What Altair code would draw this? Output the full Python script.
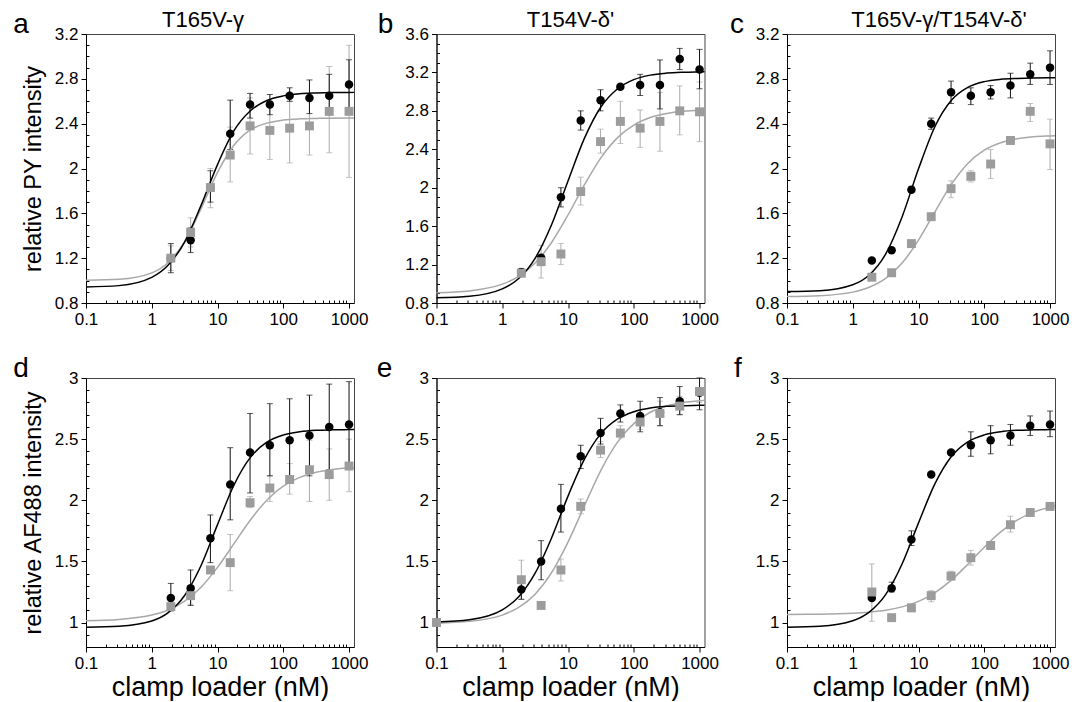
import altair as alt
import pandas as pd

FONT = "Liberation Sans"

# ---------------- shared x values ----------------
conc = [1.95, 3.9, 7.8, 15.6, 31.25, 62.5, 125, 250, 500, 1000]
conc_e = [0.1, 1.95, 3.9, 7.8, 15.6, 31.25, 62.5, 125, 250, 500, 1000]
fit_x = [0.1, 0.316, 1, 1.78, 3.16, 5.62, 10, 17.8, 31.6, 56.2, 100, 178, 316, 562, 1000, 1190]

# ---------------- axis ticks ----------------
x_major = [0.1, 1, 10, 100, 1000]
x_minor = [0.2, 0.3, 0.4, 0.5, 0.6, 0.7, 0.8, 0.9,
           2, 3, 4, 5, 6, 7, 8, 9,
           20, 30, 40, 50, 60, 70, 80, 90,
           200, 300, 400, 500, 600, 700, 800, 900]
y_major_ac = [0.8, 1.2, 1.6, 2.0, 2.4, 2.8, 3.2]
y_major_b = [0.8, 1.2, 1.6, 2.0, 2.4, 2.8, 3.2, 3.6]
y_major_def = [1.0, 1.5, 2.0, 2.5, 3.0]
y_minor_ac = [0.9, 1.0, 1.1, 1.3, 1.4, 1.5, 1.7, 1.8, 1.9, 2.1, 2.2, 2.3,
              2.5, 2.6, 2.7, 2.9, 3.0, 3.1]
y_minor_b = y_minor_ac + [3.3, 3.4, 3.5]
y_minor_def = [0.9, 1.1, 1.2, 1.3, 1.4, 1.6, 1.7, 1.8, 1.9, 2.1, 2.2, 2.3,
               2.4, 2.6, 2.7, 2.8, 2.9]

# ---------------- panel a : T165V-gamma, PY ----------------
a_black = [1.20, 1.36, 1.83, 2.31, 2.57, 2.57, 2.65, 2.63, 2.65, 2.75]
a_black_lo = [1.07, 1.25, 1.70, 2.17, 2.45, 2.48, 2.60, 2.49, 2.48, 2.53]
a_black_hi = [1.33, 1.47, 1.98, 2.61, 2.67, 2.66, 2.72, 2.79, 2.84, 2.97]
a_grey = [1.20, 1.43, 1.83, 2.12, 2.38, 2.34, 2.36, 2.38, 2.51, 2.51]
a_grey_lo = [1.09, 1.30, 1.65, 1.88, 2.13, 2.08, 2.05, 2.12, 2.14, 1.92]
a_grey_hi = [1.31, 1.56, 2.00, 2.37, 2.63, 2.60, 2.60, 2.62, 2.91, 3.10]
a_black_fit = [0.943, 0.955, 1.029, 1.139, 1.344, 1.671, 2.035, 2.337, 2.515, 2.607,
               2.648, 2.667, 2.674, 2.678, 2.679, 2.680]
a_grey_fit = [1.002, 1.011, 1.069, 1.162, 1.348, 1.641, 1.966, 2.208, 2.344, 2.405,
              2.432, 2.443, 2.447, 2.449, 2.450, 2.450]

# ---------------- panel b : T154V-delta', PY ----------------
b_black = [1.12, 1.27, 1.90, 2.70, 2.91, 3.05, 3.07, 3.07, 3.34, 3.23]
b_black_lo = [1.09, 1.24, 1.80, 2.60, 2.80, 3.03, 2.96, 2.82, 3.23, 3.03]
b_black_hi = [1.16, 1.30, 2.00, 2.80, 3.02, 3.07, 3.18, 3.33, 3.45, 3.44]
b_grey = [1.11, 1.23, 1.31, 1.96, 2.48, 2.69, 2.62, 2.69, 2.80, 2.79]
b_grey_lo = [1.08, 1.06, 1.20, 1.82, 2.36, 2.46, 2.42, 2.38, 2.55, 2.48]
b_grey_hi = [1.15, 1.40, 1.42, 2.11, 2.61, 2.90, 2.81, 2.99, 3.06, 3.10]
b_black_fit = [0.854, 0.870, 0.947, 1.055, 1.265, 1.615, 2.071, 2.516, 2.840, 3.028,
               3.125, 3.172, 3.193, 3.202, 3.206, 3.207]
b_grey_fit = [0.907, 0.926, 0.996, 1.077, 1.216, 1.430, 1.716, 2.031, 2.311, 2.519,
              2.652, 2.730, 2.772, 2.795, 2.807, 2.809]

# ---------------- panel c : double mutant, PY ----------------
c_black = [1.18, 1.27, 1.81, 2.40, 2.68, 2.65, 2.68, 2.74, 2.84, 2.90]
c_black_lo = [1.18, 1.27, 1.79, 2.35, 2.58, 2.57, 2.62, 2.63, 2.75, 2.75]
c_black_hi = [1.18, 1.27, 1.84, 2.45, 2.78, 2.72, 2.74, 2.85, 2.94, 3.05]
c_grey = [1.03, 1.07, 1.33, 1.57, 1.82, 1.93, 2.04, 2.25, 2.51, 2.22]
c_grey_lo = [1.03, 1.07, 1.31, 1.57, 1.74, 1.88, 1.91, 2.25, 2.42, 1.99]
c_grey_hi = [1.03, 1.07, 1.36, 1.57, 1.89, 1.98, 2.17, 2.25, 2.58, 2.44]
c_black_fit = [0.902, 0.910, 0.963, 1.050, 1.236, 1.568, 1.997, 2.375, 2.609, 2.724,
               2.775, 2.796, 2.804, 2.808, 2.809, 2.810]
c_grey_fit = [0.857, 0.865, 0.897, 0.940, 1.019, 1.156, 1.361, 1.614, 1.858, 2.045,
              2.163, 2.230, 2.265, 2.283, 2.291, 2.293]

# ---------------- panel d : T165V-gamma, AF488 ----------------
d_black = [1.20, 1.28, 1.69, 2.13, 2.39, 2.45, 2.49, 2.53, 2.60, 2.62]
d_black_lo = [1.10, 1.14, 1.49, 1.84, 2.06, 2.20, 2.17, 2.20, 2.25, 2.28]
d_black_hi = [1.32, 1.43, 1.88, 2.43, 2.71, 2.79, 2.83, 2.86, 2.95, 2.97]
d_grey = [1.13, 1.22, 1.43, 1.49, 1.98, 2.10, 2.17, 2.25, 2.21, 2.28]
d_grey_lo = [1.09, 1.15, 1.41, 1.26, 1.94, 1.99, 2.05, 1.99, 2.00, 2.07]
d_grey_hi = [1.17, 1.28, 1.45, 1.72, 2.03, 2.20, 2.30, 2.49, 2.42, 2.50]
d_black_fit = [0.962, 0.970, 1.013, 1.081, 1.221, 1.467, 1.801, 2.125, 2.351, 2.475,
               2.534, 2.560, 2.572, 2.576, 2.578, 2.579]
d_grey_fit = [1.014, 1.025, 1.061, 1.103, 1.175, 1.289, 1.451, 1.645, 1.839, 2.001,
              2.115, 2.187, 2.229, 2.252, 2.265, 2.267]

# ---------------- panel e : T154V-delta', AF488 ----------------
e_black = [1.00, 1.27, 1.50, 1.93, 2.36, 2.55, 2.71, 2.69, 2.72, 2.81, 2.88]
e_black_lo = [1.00, 1.19, 1.35, 1.74, 2.26, 2.46, 2.64, 2.56, 2.61, 2.70, 2.74]
e_black_hi = [1.00, 1.36, 1.67, 2.13, 2.45, 2.67, 2.78, 2.81, 2.84, 2.93, 3.00]
e_grey = [1.00, 1.35, 1.14, 1.43, 1.95, 2.41, 2.55, 2.64, 2.71, 2.77, 2.89]
e_grey_lo = [1.00, 1.19, 1.14, 1.34, 1.89, 2.35, 2.51, 2.58, 2.61, 2.70, 2.80]
e_grey_hi = [1.00, 1.51, 1.14, 1.52, 2.01, 2.48, 2.61, 2.70, 2.81, 2.85, 3.00]
e_black_fit = [1.005, 1.023, 1.104, 1.211, 1.404, 1.692, 2.034, 2.336, 2.545, 2.663,
               2.724, 2.754, 2.768, 2.774, 2.777, 2.778]
e_grey_fit = [0.995, 1.010, 1.061, 1.124, 1.232, 1.408, 1.658, 1.956, 2.245, 2.473,
              2.627, 2.720, 2.771, 2.799, 2.814, 2.817]

# ---------------- panel f : double mutant, AF488 ----------------
f_black = [1.20, 1.28, 1.68, 2.21, 2.39, 2.45, 2.49, 2.53, 2.61, 2.62]
f_black_lo = [1.20, 1.25, 1.63, 2.21, 2.39, 2.36, 2.38, 2.45, 2.53, 2.52]
f_black_hi = [1.20, 1.33, 1.75, 2.21, 2.39, 2.56, 2.61, 2.62, 2.69, 2.73]
f_grey = [1.25, 1.04, 1.12, 1.22, 1.38, 1.53, 1.63, 1.80, 1.90, 1.95]
f_grey_lo = [1.01, 1.04, 1.12, 1.17, 1.35, 1.47, 1.63, 1.74, 1.87, 1.92]
f_grey_hi = [1.48, 1.04, 1.12, 1.26, 1.42, 1.59, 1.63, 1.87, 1.93, 1.98]
f_black_fit = [0.962, 0.970, 1.015, 1.085, 1.228, 1.479, 1.815, 2.136, 2.358, 2.478,
               2.535, 2.561, 2.572, 2.576, 2.578, 2.579]
f_grey_fit = [1.066, 1.068, 1.076, 1.085, 1.100, 1.128, 1.173, 1.245, 1.347, 1.477,
              1.616, 1.741, 1.837, 1.903, 1.944, 1.953]

titles = ["T165V-γ", "T154V-δ'", "T165V-γ/T154V-δ'", "", "", ""]
title_dx = [117, 134, 152, 0, 0, 0]
letters = ["a", "b", "c", "d", "e", "f"]
letter_dx = [-65, -51, -50, -65, -52, -49]

BLACK = "#000000"
BLACK_ERR = "#111111"
GREY_PT = "#9c9c9c"
GREY_LINE = "#a8a8a8"
GREY_ERR = "#ababab"

W, H = 268, 269


def make_panel(i, xs, bv, blo, bhi, gv, glo, ghi, bfit, gfit,
               ydom, ymaj, ymin, ytitle, xtitle):
    xsc = alt.Scale(type="log", domain=[0.1, 1190], nice=False)
    ysc = alt.Scale(domain=ydom, nice=False, zero=False)

    pts_b = pd.DataFrame({"x": xs, "v": bv, "lo": blo, "hi": bhi})
    pts_g = pd.DataFrame({"x": xs, "v": gv, "lo": glo, "hi": ghi})
    err_b = pts_b[pts_b["hi"] > pts_b["lo"]]
    err_g = pts_g[pts_g["hi"] > pts_g["lo"]]
    fit_b = pd.DataFrame({"x": fit_x, "v": bfit})
    fit_g = pd.DataFrame({"x": fit_x, "v": gfit})

    def X(axis=None):
        return alt.X("x:Q", scale=xsc, axis=axis)

    def Y(field, axis=None):
        return alt.Y(field, scale=ysc, axis=axis)

    def errlayers(df, color):
        rule = alt.Chart(df).mark_rule(color=color, strokeWidth=1).encode(
            x=X(), y=Y("lo:Q"), y2="hi:Q")
        cap_lo = alt.Chart(df).mark_tick(color=color, orient="horizontal",
                                         size=6, thickness=1).encode(x=X(), y=Y("lo:Q"))
        cap_hi = alt.Chart(df).mark_tick(color=color, orient="horizontal",
                                         size=6, thickness=1).encode(x=X(), y=Y("hi:Q"))
        return [rule, cap_lo, cap_hi]

    x_axis_major = alt.Axis(values=x_major, format="~g", orient="bottom",
                            tickSize=5, labelPadding=3, labelFlush=False,
                            labelOverlap=False,
                            title=xtitle if xtitle else None,
                            titleFontSize=27, titlePadding=3)
    y_axis_major = alt.Axis(values=ymaj, format="~g", orient="left",
                            tickSize=5, labelPadding=3, labelFlush=False,
                            labelOverlap=False,
                            title=ytitle if ytitle else None,
                            titleFontSize=23.5, titlePadding=9)
    x_axis_minor = alt.Axis(values=x_minor, orient="bottom", offset=-3,
                            tickSize=3, labels=False, domain=False, title=None)
    y_axis_minor = alt.Axis(values=ymin, orient="left", offset=-3,
                            tickSize=3, labels=False, domain=False, title=None)

    grey_line = alt.Chart(fit_g).mark_line(color=GREY_LINE, strokeWidth=1.5,
                                           interpolate="monotone").encode(
        x=X(x_axis_minor), y=Y("v:Q", y_axis_minor))
    black_line = alt.Chart(fit_b).mark_line(color=BLACK, strokeWidth=1.5,
                                            interpolate="monotone").encode(
        x=X(), y=Y("v:Q"))
    black_pts = alt.Chart(pts_b).mark_point(shape="circle", filled=True, size=72,
                                            color=BLACK, opacity=1).encode(
        x=X(x_axis_major), y=Y("v:Q", y_axis_major))
    grey_pts = alt.Chart(pts_g).mark_point(shape="square", filled=True, size=80,
                                           color=GREY_PT, opacity=1).encode(
        x=X(), y=Y("v:Q"))
    letter = alt.Chart(pd.DataFrame({"lab": [letters[i]]})).mark_text(
        font=FONT, fontSize=28, align="center", baseline="alphabetic",
        color=BLACK).encode(x=alt.value(letter_dx[i]), y=alt.value(-1), text="lab:N")

    layers = (errlayers(err_g, GREY_ERR) + errlayers(err_b, BLACK_ERR) +
              [grey_line, black_line, black_pts, grey_pts, letter])
    if titles[i]:
        head = alt.Chart(pd.DataFrame({"t": [titles[i]]})).mark_text(
            font=FONT, fontSize=22, align="center", baseline="alphabetic",
            color=BLACK).encode(x=alt.value(title_dx[i]), y=alt.value(-7), text="t:N")
        layers.append(head)
    ch = alt.layer(*layers).resolve_axis(x="independent", y="independent")
    return ch.properties(width=W, height=H)


ydom_top = [0.8, 3.2]
ydom_b = [0.8, 3.6]
ydom_bot = [0.8, 3.0]

pa = make_panel(0, conc, a_black, a_black_lo, a_black_hi, a_grey, a_grey_lo, a_grey_hi,
                a_black_fit, a_grey_fit, ydom_top, y_major_ac, y_minor_ac,
                "relative PY intensity", "")
pb = make_panel(1, conc, b_black, b_black_lo, b_black_hi, b_grey, b_grey_lo, b_grey_hi,
                b_black_fit, b_grey_fit, ydom_b, y_major_b, y_minor_b, "", "")
pc = make_panel(2, conc, c_black, c_black_lo, c_black_hi, c_grey, c_grey_lo, c_grey_hi,
                c_black_fit, c_grey_fit, ydom_top, y_major_ac, y_minor_ac, "", "")
pd_ = make_panel(3, conc, d_black, d_black_lo, d_black_hi, d_grey, d_grey_lo, d_grey_hi,
                 d_black_fit, d_grey_fit, ydom_bot, y_major_def, y_minor_def,
                 "relative AF488 intensity", "clamp loader (nM)")
pe = make_panel(4, conc_e, e_black, e_black_lo, e_black_hi, e_grey, e_grey_lo, e_grey_hi,
                e_black_fit, e_grey_fit, ydom_bot, y_major_def, y_minor_def,
                "", "clamp loader (nM)")
pf = make_panel(5, conc, f_black, f_black_lo, f_black_hi, f_grey, f_grey_lo, f_grey_hi,
                f_black_fit, f_grey_fit, ydom_bot, y_major_def, y_minor_def,
                "", "clamp loader (nM)")

chart = alt.concat(pa, pb, pc, pd_, pe, pf, columns=3,
                   spacing={"row": 75, "column": 82.5}, bounds="flush",
                   padding={"left": 4, "top": 0, "right": 5, "bottom": 0}
                   ).configure_view(stroke="#444444", strokeWidth=1
                   ).configure_axis(labelFont=FONT, labelFontSize=17, labelColor=BLACK,
                                    tickColor=BLACK, domainColor=BLACK, domainWidth=1,
                                    tickWidth=1, grid=False, titleFont=FONT,
                                    titleFontWeight="normal", titleColor=BLACK)

chart.save("out.html", embed_options={"renderer": "svg", "actions": False})
